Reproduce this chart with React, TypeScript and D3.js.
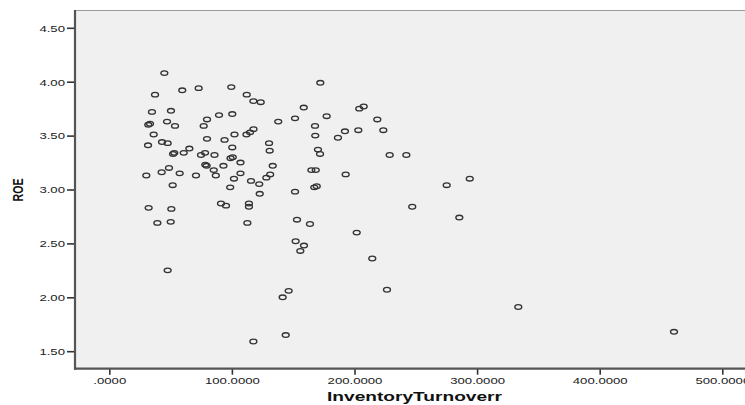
import { useEffect, useRef } from 'react';
import * as d3 from 'd3';

// Inventory turnover (x) and ROE (y)
const inventoryTurnover = [
  44.9, 37.3, 59.5, 72.9, 34.8, 50.3, 31.8, 33.2, 47.1, 53.6,
  36.2, 43.0, 47.6, 31.6, 52.0, 53.0, 60.7, 65.3, 79.7, 77.0,
  79.7, 74.8, 78.1, 78.3, 79.4, 48.7, 42.7, 30.2, 57.4, 70.7,
  51.7, 32.1, 50.6, 39.2, 50.1, 47.6, 117.5, 141.4, 146.3, 143.9,
  99.5, 112.1, 117.5, 123.5, 89.5, 100.3, 137.8, 94.0, 102.1, 111.9,
  114.8, 117.6, 130.3, 130.8, 85.8, 100.3, 93.1, 98.9, 100.7, 107.0,
  133.3, 85.2, 86.9, 101.7, 107.0, 98.6, 115.6, 122.3, 122.7, 128.1,
  131.2, 91.1, 95.2, 113.9, 113.9, 112.6, 172.1, 158.6, 151.5, 177.3,
  203.9, 207.5, 218.6, 167.8, 168.0, 192.2, 186.5, 203.1, 223.5, 170.2,
  171.9, 228.7, 242.3, 164.8, 168.4, 192.8, 151.5, 167.2, 169.2, 275.2,
  294.0, 285.5, 247.1, 153.1, 163.7, 201.8, 152.0, 158.8, 155.8, 214.5,
  226.5, 333.6, 460.6,
];

const roe = [
  4.08, 3.88, 3.92, 3.94, 3.72, 3.73, 3.60, 3.61, 3.63, 3.59,
  3.51, 3.44, 3.43, 3.41, 3.33, 3.34, 3.34, 3.38, 3.65, 3.59,
  3.47, 3.32, 3.34, 3.23, 3.22, 3.20, 3.16, 3.13, 3.15, 3.13,
  3.04, 2.83, 2.82, 2.69, 2.70, 2.25, 1.59, 2.00, 2.06, 1.65,
  3.95, 3.88, 3.82, 3.81, 3.69, 3.70, 3.63, 3.46, 3.51, 3.51,
  3.53, 3.56, 3.43, 3.36, 3.32, 3.39, 3.22, 3.29, 3.30, 3.25,
  3.22, 3.18, 3.13, 3.10, 3.15, 3.02, 3.08, 3.05, 2.96, 3.11,
  3.14, 2.87, 2.85, 2.87, 2.84, 2.69, 3.99, 3.76, 3.66, 3.68,
  3.75, 3.77, 3.65, 3.59, 3.50, 3.54, 3.48, 3.55, 3.55, 3.37,
  3.33, 3.32, 3.32, 3.18, 3.18, 3.14, 2.98, 3.02, 3.03, 3.04,
  3.10, 2.74, 2.84, 2.72, 2.68, 2.60, 2.52, 2.48, 2.43, 2.36,
  2.07, 1.91, 1.68,
];

const xTicks = [0, 100, 200, 300, 400, 500];
const yTicks = [1.5, 2.0, 2.5, 3.0, 3.5, 4.0, 4.5];

export default function App() {
  const svgRef = useRef<SVGSVGElement>(null);

  useEffect(() => {
    const width = 745;
    const height = 405;
    const left = 75;
    const top = 10;
    const bottom = 368.7;
    const font = 'Arial, "Liberation Sans", sans-serif';

    const svg = d3.select(svgRef.current);
    svg.selectAll('*').remove();
    svg.attr('width', width).attr('height', height);

    const x = d3.scaleLinear().domain([0, 500]).range([109.3, 722.3]);
    const y = d3.scaleLinear().domain([1.5, 4.5]).range([351.2, 27.8]);

    // plot background + frame
    svg.append('rect')
      .attr('x', left).attr('y', top)
      .attr('width', width - left).attr('height', bottom - top)
      .attr('fill', '#f0f0f0');
    svg.append('line')
      .attr('x1', left).attr('x2', width)
      .attr('y1', top + 0.5).attr('y2', top + 0.5)
      .attr('stroke', '#9a9a9a').attr('stroke-width', 1);

    // points
    svg.append('g')
      .selectAll('ellipse')
      .data(inventoryTurnover.map((v, i) => [v, roe[i]]))
      .enter()
      .append('ellipse')
      .attr('cx', (d) => x(d[0]))
      .attr('cy', (d) => y(d[1]))
      .attr('rx', 3.5)
      .attr('ry', 2.3)
      .attr('fill', 'none')
      .attr('stroke', '#333')
      .attr('stroke-width', 1.3);

    // Y axis
    const gy = svg.append('g')
      .attr('transform', `translate(${left},0)`)
      .attr('color', '#333')
      .call(
        d3.axisLeft(y)
          .tickValues(yTicks)
          .tickSize(8)
          .tickSizeOuter(0)
          .tickFormat((d) => d3.format('.2f')(d as number))
      );
    gy.select('.domain').remove();
    gy.selectAll('line').attr('stroke-width', 1.6);
    gy.selectAll('text')
      .attr('x', 0)
      .attr('dy', '0.35em')
      .attr('transform', 'translate(-10,0) scale(1.4,1)')
      .attr('font-size', 9.4)
      .attr('font-family', font)
      .attr('fill', '#222');

    // X axis
    const gx = svg.append('g')
      .attr('transform', `translate(0,${bottom})`)
      .attr('color', '#333')
      .call(
        d3.axisBottom(x)
          .tickValues(xTicks)
          .tickSize(6)
          .tickSizeOuter(0)
          .tickFormat((d) => d3.format('.4f')(d as number).replace(/^0\./, '.'))
      );
    gx.select('.domain').remove();
    gx.selectAll('line').attr('stroke-width', 1.6);
    gx.selectAll('text')
      .attr('y', 0)
      .attr('dy', 0)
      .attr('transform', 'translate(0,15.4) scale(1.4,1)')
      .attr('font-size', 9.4)
      .attr('font-family', font)
      .attr('fill', '#222');

    // axis lines
    svg.append('line')
      .attr('x1', left).attr('x2', left)
      .attr('y1', top).attr('y2', bottom + 1)
      .attr('stroke', '#555').attr('stroke-width', 2.2);
    svg.append('line')
      .attr('x1', left - 1).attr('x2', width)
      .attr('y1', bottom).attr('y2', bottom)
      .attr('stroke', '#555').attr('stroke-width', 2.2);

    // axis titles
    svg.append('text')
      .attr('x', 414.5)
      .attr('y', 401)
      .attr('text-anchor', 'middle')
      .attr('font-family', font)
      .attr('font-weight', 'bold')
      .attr('font-size', 12.5)
      .attr('textLength', 175)
      .attr('lengthAdjust', 'spacingAndGlyphs')
      .attr('fill', '#111')
      .text('InventoryTurnoverr');

    svg.append('text')
      .attr('transform', 'translate(23,190) rotate(-90) scale(1,1.45)')
      .attr('text-anchor', 'middle')
      .attr('font-family', font)
      .attr('font-weight', 'bold')
      .attr('font-size', 10.6)
      .attr('fill', '#111')
      .text('ROE');
  }, []);

  return (
    <svg
      ref={svgRef}
      style={{ position: 'absolute', left: 0, top: 0, display: 'block', background: '#fff' }}
    ></svg>
  );
}
